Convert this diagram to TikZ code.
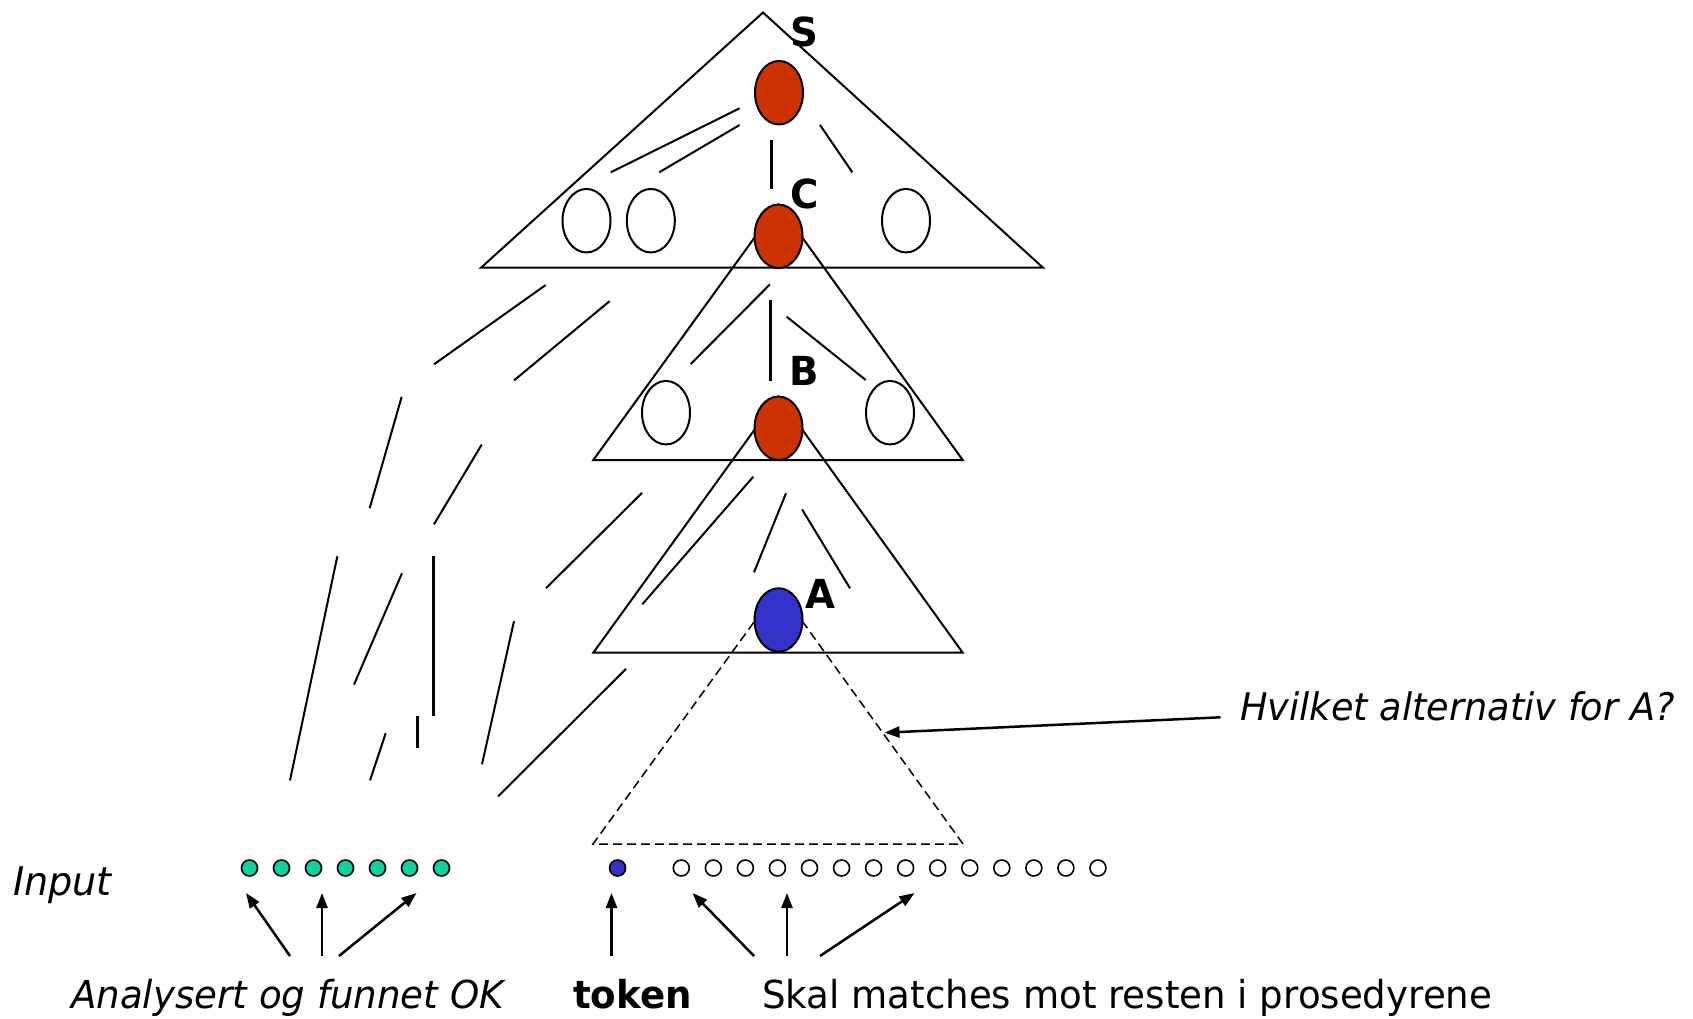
\documentclass[tikz,border=0pt]{standalone}
\usepackage{fontspec}
\setmainfont{DejaVu Sans}[FakeStretch=0.965]
\usetikzlibrary{shapes.geometric,arrows.meta,calc}
\definecolor{ovred}{HTML}{CC3300}
\definecolor{ovblue}{HTML}{3333CC}
\definecolor{dotgreen}{HTML}{10D0A0}
\begin{document}
\begin{tikzpicture}[x=1pt,y=-1pt,
  tri/.style={line width=2pt, line join=miter},
  dashtri/.style={line width=1.5pt, dash pattern=on 9pt off 5pt},
  seg/.style={line width=2pt},
  thickseg/.style={line width=3pt},
  oval/.style={ellipse, draw, line width=2pt, minimum width=48pt, minimum height=63.5pt, inner sep=0pt, fill=white},
  redoval/.style={oval, fill=ovred},
  blueoval/.style={oval, fill=ovblue},
  dot/.style={circle, draw, line width=1.6pt, minimum size=16pt, inner sep=0pt, fill=white},
  lbl/.style={anchor=base west, inner sep=0pt, font=\fontsize{40}{44}\selectfont\bfseries},
  txt/.style={anchor=base west, inner sep=0pt, font=\fontsize{38.5}{42}\selectfont},
  arr/.style={line width=2.5pt, -{Triangle[length=15pt,width=11pt]}}
]
\useasboundingbox (0,0) rectangle (1693,1019);

% ---------- oval centres ----------
\coordinate (topapex) at (763,12.5);
\path (778.5,236.3) coordinate (Cc) (778.5,428.3) coordinate (Bc) (778.5,620) coordinate (Ac);

% ---------- triangles ----------
\draw[tri] (topapex) -- (481,267.7) -- (1043,267.7) -- cycle;
\draw[tri] ($(Cc)+(0,-31.75)$) -- (593.3,460) -- (962.7,460) -- cycle;
\draw[tri] ($(Bc)+(0,-31.75)$) -- (593.3,652.7) -- (962.7,652.7) -- cycle;
\draw[dashtri] ($(Ac)+(0,-31.75)$) -- (593,844) -- (963,844) -- cycle;

% ---------- segments inside the top triangle ----------
\draw[seg] (739.6,108.3) -- (610.8,172.3);
\draw[seg] (739.6,125) -- (659.2,172.3);
\draw[thickseg] (771.9,140) -- (771.9,188.7);
\draw[seg] (820,125) -- (852.3,172.3);
% middle triangle
\draw[seg] (770,284.3) -- (690.7,364);
\draw[thickseg] (770.3,300) -- (770.3,380.7);
\draw[seg] (786.7,316.7) -- (865.7,380);
% bottom triangle
\draw[seg] (753.3,476.7) -- (642.3,604.3);
\draw[seg] (786,493.3) -- (754,572.3);
\draw[seg] (802,509.3) -- (850,588.3);
% scattered segments on the left
\draw[seg] (545.7,285) -- (434,364.3);
\draw[seg] (609.7,301.1) -- (514,380.4);
\draw[seg] (401.7,396.8) -- (369.7,508.2);
\draw[seg] (481.7,444.6) -- (434,524.3);
\draw[seg] (642,492.9) -- (546,588.2);
\draw[seg] (337.3,556.4) -- (290,780.4);
\draw[seg] (402,573.2) -- (354,684.6);
\draw[thickseg] (433.3,556.1) -- (433.3,716.4);
\draw[thickseg] (417.3,716.4) -- (417.3,748.2);
\draw[seg] (385.7,733.2) -- (370,780.4);
\draw[seg] (514,621.1) -- (482,764.3);
\draw[seg] (626,668.9) -- (498,796.4);

% ---------- ovals ----------
\node[redoval] (S) at (779,92.7) {};
\node[redoval] (C) at (Cc) {};
\node[redoval] (B) at (Bc) {};
\node[blueoval] (A) at (Ac) {};
\node[oval] (w1) at (586.5,220.7) {};
\node[oval] (w2) at (650.8,220.7) {};
\node[oval] (w3) at (906,220.7) {};
\node[oval] (w4) at (666,412.7) {};
\node[oval] (w5) at (890,412.7) {};

% ---------- labels ----------
\node[lbl] (lS) at (790,46.7) {S};
\node[lbl] (lC) at (790,208.3) {C};
\node[lbl] (lB) at (789,385) {B};
\node[lbl] (lA) at (805,608.5) {A};

% ---------- input row ----------
\foreach \i in {0,...,6} {
  \node[dot, fill=dotgreen] (g\i) at (249.5+32*\i,868) {};
}
\node[dot, fill=ovblue] (tok) at (617.6,868) {};
\foreach \i in {0,...,13} {
  \node[dot] (r\i) at (681.3+32.05*\i,868) {};
}

% ---------- texts ----------
\node[txt, font=\fontsize{39.5}{42}\selectfont\itshape] (input) at (13,895) {Input};
\node[txt, font=\fontsize{38.5}{42}\selectfont\itshape] (anal) at (71,1008) {Analysert og funnet OK};
\node[txt, font=\fontsize{38.5}{42}\selectfont\bfseries] (token) at (573,1008) {token};
\node[txt] (skal) at (762,1008) {Skal matches mot resten i prosedyrene};
\node[txt, font=\fontsize{38}{42}\selectfont\itshape] (hvil) at (1240,720) {Hvilket alternativ for A?};

% ---------- arrows ----------
\coordinate (hvtail) at (1220.5,717.3);
\coordinate (hvtip) at (884.5,732.7);
\draw[arr] (hvtail) -- (hvtip);

\coordinate (a1t) at (290,956);   \coordinate (a1h) at (246,893);
\coordinate (a2t) at (322,956);   \coordinate (a2h) at (322,893);
\coordinate (a3t) at (339,956);   \coordinate (a3h) at (416.5,893);
\coordinate (tkt) at (611.5,956); \coordinate (tkh) at (611.5,893);
\coordinate (b1t) at (754,956);   \coordinate (b1h) at (692.5,893);
\coordinate (b2t) at (787,956);   \coordinate (b2h) at (787,893);
\coordinate (b3t) at (820,956);   \coordinate (b3h) at (914.5,893);
\draw[arr] (a1t) -- (a1h);
\draw[arr] (a2t) -- (a2h);
\draw[arr] (a3t) -- (a3h);
\draw[arr] (tkt) -- (tkh);
\draw[arr] (b1t) -- (b1h);
\draw[arr] (b2t) -- (b2h);
\draw[arr] (b3t) -- (b3h);
\end{tikzpicture}
\end{document}
